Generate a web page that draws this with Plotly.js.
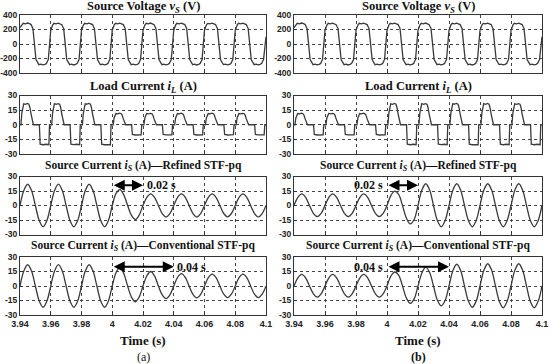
<!DOCTYPE html>
<html>
<head>
<meta charset="utf-8">
<script src="https://cdn.plot.ly/plotly-3.0.1.min.js"></script>
<style>html,body{margin:0;padding:0;background:#fff;}#chart{width:550px;height:364px;}</style>
</head>
<body>
<div id="chart"></div>
<script>
// ---- time ticks ----
const tickVals = [3.94, 3.96, 3.98, 4.0, 4.02, 4.04, 4.06, 4.08, 4.1];
const tickText = ['3.94', '3.96', '3.98', '4', '4.02', '4.04', '4.06', '4.08', '4.1'];

// ---- source voltage (same in a and b) ----
const tV = [
 3.94, 3.9406, 3.9413, 3.9421, 3.9435, 3.9449, 3.9462, 3.9472, 3.9479, 3.9484, 3.9504, 3.9509, 3.9515, 3.9523, 3.9536, 3.9549, 3.9562, 3.9572, 3.9579, 3.9584,
 3.96, 3.9606, 3.9613, 3.9621, 3.9635, 3.9649, 3.9662, 3.9672, 3.9679, 3.9684, 3.9704, 3.9709, 3.9715, 3.9723, 3.9736, 3.9749, 3.9762, 3.9772, 3.9779, 3.9784,
 3.98, 3.9806, 3.9813, 3.9821, 3.9835, 3.9849, 3.9862, 3.9872, 3.9879, 3.9884, 3.9904, 3.9909, 3.9915, 3.9923, 3.9936, 3.9949, 3.9962, 3.9972, 3.9979, 3.9984,
 4.0, 4.0006, 4.0013, 4.0021, 4.0035, 4.0049, 4.0062, 4.0072, 4.0079, 4.0084, 4.0104, 4.0109, 4.0115, 4.0123, 4.0136, 4.0149, 4.0162, 4.0172, 4.0179, 4.0184,
 4.02, 4.0206, 4.0213, 4.0221, 4.0235, 4.0249, 4.0262, 4.0272, 4.0279, 4.0284, 4.0304, 4.0309, 4.0315, 4.0323, 4.0336, 4.0349, 4.0362, 4.0372, 4.0379, 4.0384,
 4.04, 4.0406, 4.0413, 4.0421, 4.0435, 4.0449, 4.0462, 4.0472, 4.0479, 4.0484, 4.0504, 4.0509, 4.0515, 4.0523, 4.0536, 4.0549, 4.0562, 4.0572, 4.0579, 4.0584,
 4.06, 4.0606, 4.0613, 4.0621, 4.0635, 4.0649, 4.0662, 4.0672, 4.0679, 4.0684, 4.0704, 4.0709, 4.0715, 4.0723, 4.0736, 4.0749, 4.0762, 4.0772, 4.0779, 4.0784,
 4.08, 4.0806, 4.0813, 4.0821, 4.0835, 4.0849, 4.0862, 4.0872, 4.0879, 4.0884, 4.0904, 4.0909, 4.0915, 4.0923, 4.0936, 4.0949, 4.0962, 4.0972, 4.0979, 4.0984,
 4.1
];
const vS = [
 225, 240, 266, 285, 278, 289, 280, 268, 236, 215, -215, -238, -265, -285, -277, -288, -281, -268, -235, -215,
 190, 238, 264, 286, 279, 288, 281, 267, 235, 216, -214, -237, -266, -285, -278, -289, -280, -267, -236, -214,
 190, 239, 265, 285, 278, 288, 280, 268, 235, 215, -215, -238, -265, -286, -278, -288, -280, -268, -235, -215,
 191, 238, 265, 285, 277, 288, 281, 268, 236, 215, -215, -238, -264, -285, -278, -288, -281, -268, -235, -216,
 190, 237, 265, 286, 278, 289, 280, 267, 235, 215, -215, -239, -265, -285, -277, -288, -280, -267, -235, -215,
 190, 238, 266, 285, 278, 288, 280, 268, 236, 214, -216, -238, -265, -285, -278, -289, -280, -268, -236, -215,
 190, 238, 265, 285, 279, 288, 281, 268, 235, 215, -215, -238, -265, -284, -278, -288, -281, -268, -235, -215,
 189, 238, 265, 285, 278, 288, 280, 268, 235, 215, -215, -238, -266, -285, -278, -288, -280, -267, -235, -215,
 100
];

// ---- load currents ----
const tL = [
 3.94, 3.9406, 3.9412, 3.9418, 3.9424, 3.9436, 3.9448, 3.9458, 3.9464, 3.9472, 3.948, 3.9487, 3.9526, 3.9531, 3.955, 3.957, 3.9588, 3.9592,
 3.96, 3.9606, 3.9612, 3.9618, 3.9624, 3.9636, 3.9648, 3.9658, 3.9664, 3.9672, 3.968, 3.9687, 3.9726, 3.9731, 3.975, 3.977, 3.9788, 3.9792,
 3.98, 3.9806, 3.9812, 3.9818, 3.9824, 3.9836, 3.9848, 3.9858, 3.9864, 3.9872, 3.988, 3.9887, 3.9926, 3.9931, 3.995, 3.997, 3.9988, 3.9992,
 4.0, 4.0006, 4.0012, 4.0018, 4.0024, 4.0036, 4.0048, 4.0058, 4.0064, 4.0072, 4.008, 4.0087, 4.0126, 4.0131, 4.015, 4.017, 4.0188, 4.0192,
 4.02, 4.0206, 4.0212, 4.0218, 4.0224, 4.0236, 4.0248, 4.0258, 4.0264, 4.0272, 4.028, 4.0287, 4.0326, 4.0331, 4.035, 4.037, 4.0388, 4.0392,
 4.04, 4.0406, 4.0412, 4.0418, 4.0424, 4.0436, 4.0448, 4.0458, 4.0464, 4.0472, 4.048, 4.0487, 4.0526, 4.0531, 4.055, 4.057, 4.0588, 4.0592,
 4.06, 4.0606, 4.0612, 4.0618, 4.0624, 4.0636, 4.0648, 4.0658, 4.0664, 4.0672, 4.068, 4.0687, 4.0726, 4.0731, 4.075, 4.077, 4.0788, 4.0792,
 4.08, 4.0806, 4.0812, 4.0818, 4.0824, 4.0836, 4.0848, 4.0858, 4.0864, 4.0872, 4.088, 4.0887, 4.0926, 4.0931, 4.095, 4.097, 4.0988, 4.0992,
 4.1
];
const iLa = [
 0, 0, 12, 19, 21.5, 21, 21.8, 21, 18, 11, 4, 0, 0, -20, -20.5, -20, -20.5, 0,
 0, 0, 12, 19, 21.6, 21, 21.7, 21, 18, 11, 4, 0, 0, -20, -20.4, -20, -20.5, 0,
 0, 0, 12, 19, 21.5, 21.1, 21.8, 21, 18, 11, 4, 0, 0, -20, -20.5, -20.1, -20.5, 0,
 0, 0, 7, 10.5, 11.5, 11.2, 11.8, 11.3, 10, 6, 2, 0, 0, -10, -10.5, -10, -10.3, 0,
 0, 0, 7, 10.5, 11.6, 11.2, 11.7, 11.3, 10, 6, 2, 0, 0, -10, -10.4, -10, -10.3, 0,
 0, 0, 7, 10.5, 11.5, 11.2, 11.8, 11.2, 10, 6, 2, 0, 0, -10, -10.5, -10.1, -10.3, 0,
 0, 0, 7, 10.6, 11.5, 11.1, 11.8, 11.3, 10, 6, 2, 0, 0, -10, -10.5, -10, -10.2, 0,
 0, 0, 7, 10.5, 11.5, 11.2, 11.7, 11.3, 10, 6, 2, 0, 0, -10, -10.4, -10, -10.3, 0,
 0
];
const iLb = [
 0, 0, 7, 10.5, 11.5, 11.2, 11.8, 11.3, 10, 6, 2, 0, 0, -10, -10.5, -10, -10.3, 0,
 0, 0, 7, 10.5, 11.6, 11.2, 11.7, 11.3, 10, 6, 2, 0, 0, -10, -10.4, -10, -10.3, 0,
 0, 0, 7, 10.5, 11.5, 11.2, 11.8, 11.2, 10, 6, 2, 0, 0, -10, -10.5, -10.1, -10.3, 0,
 0, 0, 12, 19, 21.5, 21, 21.8, 21, 18, 11, 4, 0, 0, -20, -20.5, -20, -20.5, 0,
 0, 0, 12, 19, 21.6, 21, 21.7, 21, 18, 11, 4, 0, 0, -20, -20.4, -20, -20.5, 0,
 0, 0, 12, 19, 21.5, 21.1, 21.8, 21, 18, 11, 4, 0, 0, -20, -20.5, -20.1, -20.5, 0,
 0, 0, 12, 19, 21.6, 21, 21.8, 21, 18, 11, 4, 0, 0, -20, -20.5, -20, -20.4, 0,
 0, 0, 12, 19, 21.5, 21, 21.7, 21.1, 18, 11, 4, 0, 0, -20, -20.5, -20, -20.5, 0,
 0
];

// ---- source currents ----
const tS = [
 3.94, 3.9425, 3.945, 3.9475, 3.95, 3.9525, 3.955, 3.9575,
 3.96, 3.9625, 3.965, 3.9675, 3.97, 3.9725, 3.975, 3.9775,
 3.98, 3.9825, 3.985, 3.9875, 3.99, 3.9925, 3.995, 3.9975,
 4.0, 4.0025, 4.005, 4.0075, 4.01, 4.0125, 4.015, 4.0175,
 4.02, 4.0225, 4.025, 4.0275, 4.03, 4.0325, 4.035, 4.0375,
 4.04, 4.0425, 4.045, 4.0475, 4.05, 4.0525, 4.055, 4.0575,
 4.06, 4.0625, 4.065, 4.0675, 4.07, 4.0725, 4.075, 4.0775,
 4.08, 4.0825, 4.085, 4.0875, 4.09, 4.0925, 4.095, 4.0975,
 4.1
];
const iSrefA = [
 0, 15.5, 22, 15.5, 0, -15.5, -22, -15.5,
 0, 15.6, 22.1, 15.5, 0, -15.5, -22, -15.6,
 0, 15.5, 22, 15.4, 0, -15.5, -22, -15.5,
 0, 12.5, 16.5, 11, 0, -10.2, -14.5, -10,
 0, 8.5, 12, 8.4, 0, -8.3, -11.8, -8.3,
 0, 8.5, 12, 8.5, 0, -8.3, -11.8, -8.3,
 0, 8.5, 12, 8.4, 0, -8.3, -11.7, -8.3,
 0, 8.5, 12, 8.5, 0, -8.3, -11.8, -8.3,
 0
];
const iSconvA = [
 0, 15.5, 22, 15.5, 0, -15.5, -22, -15.5,
 0, 15.6, 22.1, 15.5, 0, -15.5, -22, -15.6,
 0, 15.5, 22, 15.4, 0, -15.5, -22, -15.5,
 0, 14, 19.5, 13, 0, -11.5, -16.3, -11.5,
 0, 10.6, 15, 10.4, 0, -9.2, -13, -9.2,
 0, 9, 12.7, 8.8, 0, -8.6, -12.2, -8.6,
 0, 8.6, 12.2, 8.6, 0, -8.5, -12, -8.5,
 0, 8.6, 12.2, 8.6, 0, -8.5, -12, -8.5,
 0
];
const iSrefB = [
 0, 8.5, 12, 8.5, 0, -8.1, -11.5, -8.1,
 0, 8.5, 12, 8.4, 0, -8.1, -11.5, -8.1,
 0, 8.5, 12, 8.5, 0, -8.1, -11.5, -8.1,
 0, 10.3, 14.8, 11.5, 0, -13, -19, -14.5,
 0, 16, 22.5, 16, 0, -15.6, -22, -15.6,
 0, 15.9, 22.5, 15.9, 0, -15.6, -22, -15.6,
 0, 16, 22.5, 16, 0, -15.6, -22, -15.6,
 0, 15.9, 22.5, 15.9, 0, -15.6, -22, -15.6,
 0
];
const iSconvB = [
 0, 8.5, 12, 8.5, 0, -8.1, -11.5, -8.1,
 0, 8.5, 12, 8.4, 0, -8.1, -11.5, -8.1,
 0, 8.5, 12, 8.5, 0, -8.1, -11.5, -8.1,
 0, 10.2, 14.5, 11.2, 0, -12.5, -18, -13.3,
 0, 13.5, 19.5, 14, 0, -14.5, -20.5, -15,
 0, 15.9, 22.5, 16, 0, -15.6, -22, -15.8,
 0, 16.2, 23, 16.2, 0, -15.9, -22.5, -15.9,
 0, 16.2, 23, 16.2, 0, -15.9, -22.5, -15.9,
 0
];

const titles = [
 'Source Voltage <i>v<sub>S</sub></i> (V)',
 'Load Current <i>i<sub>L</sub></i> (A)',
 'Source Current <i>i<sub>S</sub></i> (A)\u2014Refined STF-pq',
 'Source Current <i>i<sub>S</sub></i> (A)\u2014Conventional STF-pq'
];
const titleSizes = [12.5, 12.5, 11.5, 11.5];

// ---- layout geometry ----
const W = 550, H = 364;
const colX = [[20 / W, 266 / W], [294 / W, 542 / W]];
const rowPx = [[15, 73], [95.5, 154], [176.5, 234.5], [257, 315]];
const titlePx = [6.5, 87, 166, 246];

const series = [
 [tV, vS, 'linear'], [tL, iLa, 'linear'], [tS, iSrefA, 'spline'], [tS, iSconvA, 'spline'],
 [tV, vS, 'linear'], [tL, iLb, 'linear'], [tS, iSrefB, 'spline'], [tS, iSconvB, 'spline']
];

const data = [];
const layout = {
 width: W, height: H,
 margin: {l: 0, r: 0, t: 0, b: 0},
 paper_bgcolor: '#fff', plot_bgcolor: '#fff',
 showlegend: false,
 annotations: []
};
const serif = 'Liberation Serif, Times New Roman, serif';
const sans = 'Liberation Sans, Arial, sans-serif';

for (let i = 0; i < 8; i++) {
 const col = Math.floor(i / 4), row = i % 4;
 const n = i + 1;
 const xa = 'x' + (n === 1 ? '' : n), ya = 'y' + (n === 1 ? '' : n);
 data.push({
  x: series[i][0], y: series[i][1], xaxis: xa, yaxis: ya,
  type: 'scatter', mode: 'lines',
  line: {color: '#3a3a3a', width: 1.3, shape: series[i][2]},
  hoverinfo: 'skip'
 });
 const r = rowPx[row];
 layout['xaxis' + (n === 1 ? '' : n)] = {
  domain: colX[col], range: [3.94, 4.1], anchor: ya,
  tickvals: tickVals, ticktext: tickText,
  showticklabels: row === 3,
  tickfont: {family: sans, size: 9, color: '#222', weight: 'bold'},
  ticks: 'inside', ticklen: 3, tickcolor: '#333',
  showgrid: true, gridcolor: '#444', griddash: 'dot', gridwidth: 1,
  zeroline: false, showline: true, mirror: true, linecolor: '#333', linewidth: 1,
  fixedrange: true
 };
 const isV = row === 0;
 layout['yaxis' + (n === 1 ? '' : n)] = {
  domain: [1 - r[1] / H, 1 - r[0] / H],
  range: isV ? [-400, 400] : [-30, 30], anchor: xa,
  tickvals: isV ? [-400, -200, 0, 200, 400] : [-30, -15, 0, 15, 30],
  ticktext: isV ? ['-400', '-200', '0', '200', '400'] : ['-30', '-15', '0', '15', '30'],
  tickfont: {family: sans, size: 8.5, color: '#222', weight: 'bold'},
  ticks: 'inside', ticklen: 3, tickcolor: '#333', ticklabelstandoff: 0,
  showgrid: true, gridcolor: '#444', griddash: 'dot', gridwidth: 1,
  zeroline: false, showline: true, mirror: true, linecolor: '#333', linewidth: 1,
  fixedrange: true
 };
 layout.annotations.push({
  xref: 'paper', yref: 'paper',
  x: (colX[col][0] + colX[col][1]) / 2, y: 1 - titlePx[row] / H,
  xanchor: 'center', yanchor: 'middle', showarrow: false,
  text: '<b>' + titles[row] + '</b>',
  font: {family: serif, size: titleSizes[row], color: '#111'}
 });
}

// bottom labels
for (let col = 0; col < 2; col++) {
 const cx = (colX[col][0] + colX[col][1]) / 2;
 layout.annotations.push({
  xref: 'paper', yref: 'paper', x: cx, y: 1 - 340 / H,
  xanchor: 'center', yanchor: 'middle', showarrow: false,
  text: '<b>Time (s)</b>', font: {family: serif, size: 13, color: '#111'}
 });
 layout.annotations.push({
  xref: 'paper', yref: 'paper', x: cx, y: 1 - 357 / H,
  xanchor: 'center', yanchor: 'middle', showarrow: false,
  text: col === 0 ? '(a)' : '<b>(b)</b>', font: {family: serif, size: 12, color: '#111'}
 });
}

// double arrows and interval labels
const arrows = [
 {xr: 'x3', yr: 'y3', x0: 4.0, x1: 4.02, y: 21, label: '<b>0.02 s</b>', side: 'right'},
 {xr: 'x4', yr: 'y4', x0: 4.0, x1: 4.04, y: 20, label: '<b>0.04 s</b>', side: 'right'},
 {xr: 'x7', yr: 'y7', x0: 4.0, x1: 4.02, y: 21, label: '<b>0.02 s</b>', side: 'left'},
 {xr: 'x8', yr: 'y8', x0: 4.0, x1: 4.04, y: 20, label: '<b>0.04 s</b>', side: 'left'}
];
arrows.forEach(a => {
 layout.annotations.push({
  xref: a.xr, yref: a.yr, axref: a.xr, ayref: a.yr,
  x: a.x1, y: a.y, ax: a.x0, ay: a.y, text: '',
  showarrow: true, arrowside: 'end+start',
  arrowhead: 2, startarrowhead: 2, arrowsize: 1.1, startarrowsize: 1.1,
  arrowwidth: 2, arrowcolor: '#000', standoff: 0, startstandoff: 0
 });
 layout.annotations.push({
  xref: a.xr, yref: a.yr,
  x: a.side === 'right' ? a.x1 + 0.001 : a.x0 - 0.001, y: a.y,
  xanchor: a.side === 'right' ? 'left' : 'right', yanchor: 'middle',
  showarrow: false, text: a.label,
  font: {family: serif, size: 12, color: '#111'}
 });
});

Plotly.newPlot('chart', data, layout, {staticPlot: true, displayModeBar: false});
</script>
</body>
</html>
